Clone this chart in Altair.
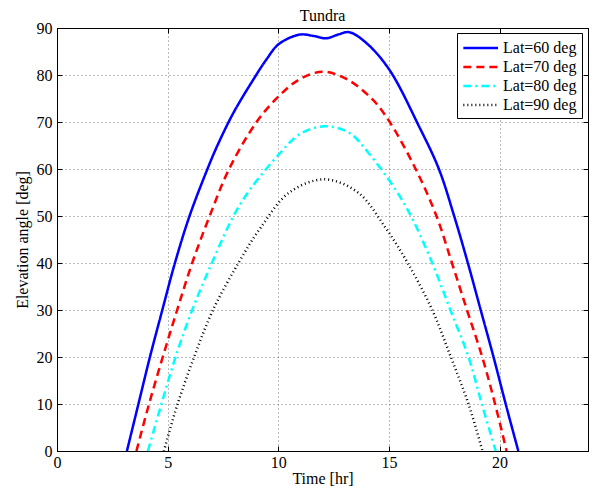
import altair as alt
import pandas as pd

series_names = ["Lat=60 deg", "Lat=70 deg", "Lat=80 deg", "Lat=90 deg"]

t60 = [3.16, 3.68, 4.20, 4.76, 5.33, 5.99, 6.80, 7.25, 7.98, 8.87, 9.45, 10.03, 10.97, 11.6, 12.17, 12.7, 13.21, 13.96, 15.01, 16.36, 17.26, 17.95, 18.57, 19.15, 19.73, 20.28, 20.85]
e60 = [0, 10, 20, 30, 40, 50, 60, 65, 72, 79, 83.2, 86.6, 88.6, 88.3, 87.8, 88.6, 89.1, 86.9, 81.2, 69.1, 60, 50, 40, 30, 20, 10, 0]

t70 = [3.59, 4.16, 4.78, 5.43, 6.11, 6.90, 7.78, 9.05, 10.03, 10.97, 12.02, 13.10, 14.26, 15.01, 16.21, 17.15, 17.85, 18.53, 19.22, 19.80, 20.32]
e70 = [0, 10, 20, 30, 40, 50, 60, 70.2, 75.5, 79.1, 80.7, 79.1, 74.8, 70.2, 60, 50, 40, 30, 20, 10, 0]

t80 = [4.11, 4.72, 5.36, 6.11, 7.0, 7.98, 8.72, 10.03, 10.97, 12.09, 13.21, 14.10, 15.30, 16.0, 16.96, 17.78, 18.6, 19.2, 19.83]
e80 = [0, 10, 20, 30, 40, 50, 55.6, 63.1, 67.4, 69.1, 67.7, 63.3, 55.6, 50, 40, 30, 20, 10, 0]

t90 = [4.83, 5.45, 6.20, 7.05, 8.20, 9.20, 10.50, 12.09, 13.60, 14.85, 15.85, 16.96, 17.80, 18.60, 19.23]
e90 = [0, 10, 20, 30, 40, 47.5, 55, 57.8, 55, 47.5, 40, 30, 20, 10, 0]

x_ticks = [0, 5, 10, 15, 20]
y_ticks = [0, 10, 20, 30, 40, 50, 60, 70, 80, 90]

rows = []
for name, ts, es in zip(series_names, [t60, t70, t80, t90], [e60, e70, e80, e90]):
    for i, (t, e) in enumerate(zip(ts, es)):
        rows.append({"series": name, "t": t, "e": e, "i": i})
df = pd.DataFrame(rows)

W, H = 531, 423
serif = "Liberation Serif"
x_scale = alt.Scale(domain=[0, 24], nice=False)
y_scale = alt.Scale(domain=[0, 90], nice=False)

legend_kw = dict(title=None, orient="none", legendX=400, legendY=5,
                 symbolType="M-1,0H3", symbolSize=300, symbolStrokeWidth=2.2,
                 labelFont=serif, labelFontSize=16, labelColor="black",
                 padding=5, rowPadding=1, labelOffset=21,
                 strokeColor="black", fillColor="white", labelLimit=200)

lines = alt.Chart(df).mark_line(interpolate="catmull-rom").encode(
    x=alt.X("t:Q", scale=x_scale,
            axis=alt.Axis(orient="bottom", values=x_ticks, title="Time [hr]", format="d",
                          labelFlush=False)),
    y=alt.Y("e:Q", scale=y_scale,
            axis=alt.Axis(orient="left", values=y_ticks, title="Elevation angle [deg]",
                          format="d", labelFlush=False)),
    order="i:Q",
    color=alt.Color("series:N", sort=series_names,
                    scale=alt.Scale(domain=series_names,
                                    range=["#0000ff", "#ff0000", "#00ffff", "#000000"]),
                    legend=alt.Legend(**legend_kw)),
    strokeDash=alt.StrokeDash("series:N", sort=series_names,
                              scale=alt.Scale(domain=series_names,
                                              range=[[1, 0], [8, 5], [8, 4, 2, 4], [1, 3]]),
                              legend=alt.Legend(**legend_kw)),
    strokeWidth=alt.StrokeWidth("series:N", sort=series_names,
                                scale=alt.Scale(domain=series_names, range=[2.5, 2.5, 2.5, 1.0]),
                                legend=None),
)

def tick_axis(orient, values, offset):
    return alt.Axis(orient=orient, values=values, labels=False, ticks=True, tickSize=5,
                    tickColor="black", tickWidth=1, grid=False, title=None,
                    domain=True, domainColor="black", domainWidth=1,
                    offset=offset, minExtent=0, maxExtent=0)

# inward ticks on bottom / left edges
ticks_a = alt.Chart(df).mark_point(opacity=0).encode(
    x=alt.X("t:Q", scale=x_scale, axis=tick_axis("top", x_ticks, -H)),
    y=alt.Y("e:Q", scale=y_scale, axis=tick_axis("right", y_ticks, -W)),
)
# inward ticks on top / right edges (also draws the top and right frame lines)
ticks_b = alt.Chart(df).mark_point(opacity=0).encode(
    x=alt.X("t:Q", scale=x_scale, axis=tick_axis("bottom", x_ticks, -H)),
    y=alt.Y("e:Q", scale=y_scale, axis=tick_axis("left", y_ticks, -W)),
)

chart = alt.layer(lines, ticks_a, ticks_b).resolve_axis(
    x="independent", y="independent"
).properties(
    width=W,
    height=H,
    title=alt.TitleParams("Tundra", font=serif, fontSize=16, fontWeight="normal",
                          color="black", offset=-4, anchor="middle", frame="group"),
    autosize=alt.AutoSizeParams(type="none"),
    padding={"left": 49, "top": 20, "right": 1, "bottom": 36},
).configure_view(
    stroke="black", strokeWidth=1
).configure_axis(
    labelFont=serif, labelFontSize=16, labelColor="black",
    titleFont=serif, titleFontSize=16, titleFontWeight="normal", titleColor="black",
    grid=True, gridColor="#555555", gridDash=[1, 3], gridWidth=1, gridOpacity=0.8,
    domainColor="black", domainWidth=1, ticks=False,
).configure_axisX(
    labelPadding=3, titlePadding=0
).configure_axisY(
    labelPadding=5, titlePadding=6
)

chart.save("out.html", embed_options={"renderer": "svg", "actions": False})
